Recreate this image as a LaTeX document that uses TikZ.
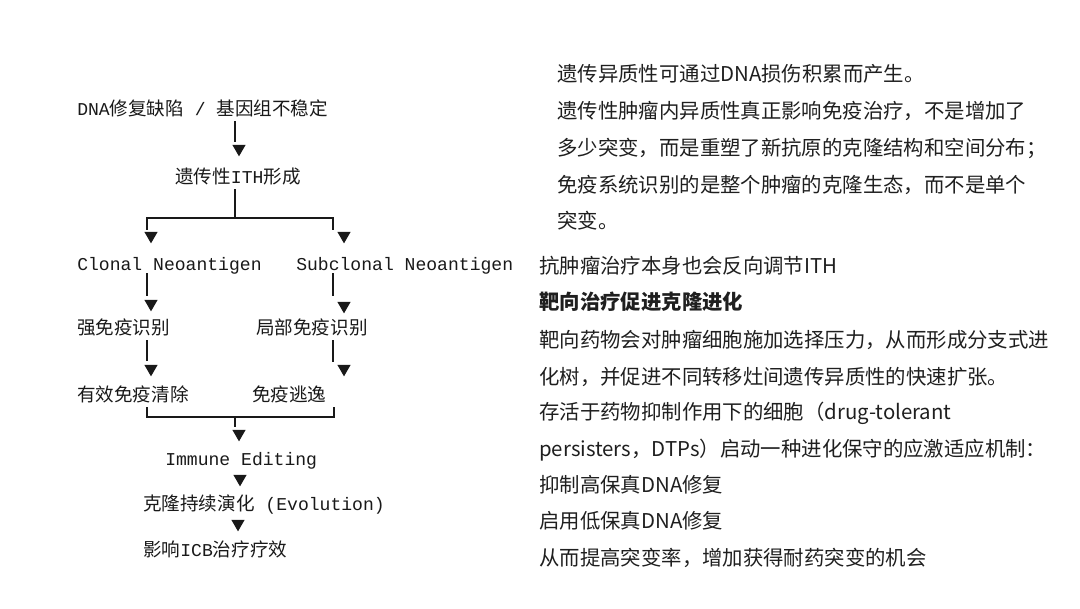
\documentclass[tikz,border=0pt]{standalone}
\usepackage{fontspec}
\setmonofont{Liberation Mono}
\newfontfamily\cjk{Noto Sans CJK SC}
\newcommand\zh[1]{{\cjk\fontsize{13.2}{16}\selectfont #1}}
\usetikzlibrary{calc}
\usetikzlibrary{positioning}
\usetikzlibrary{shapes.geometric}

\tikzset{
  flow/.style={font=\ttfamily\fontsize{12.85}{16}\selectfont, text=black!90, inner sep=0pt,
               text height=0.35cm, text depth=0.1cm, anchor=base west},
  note/.style={font=\cjk\fontsize{14.5}{18}\selectfont, text=black!88, inner sep=0pt, anchor=base west},
  tri/.style={regular polygon, regular polygon sides=3, shape border rotate=180,
              fill=black!90, inner sep=0pt, minimum size=0.38cm},
  link/.style={black!90, line width=1.3pt}
}

\begin{document}
\begin{tikzpicture}[x=0.025cm, y=-0.025cm]
  \useasboundingbox (0,0) rectangle (1080,608);

  % flow chart
  \path (77,115)  node[flow] (dna)       {DNA\zh{修复缺陷} / \zh{基因组不稳定}}
        (175,183) node[flow] (ith)       {\zh{遗传性}ITH\zh{形成}}
        (77,270)  node[flow] (clonal)    {Clonal Neoantigen}
        (296,270) node[flow] (subclonal) {Subclonal Neoantigen}
        (77,334)  node[flow] (strong)    {\zh{强免疫识别}}
        (256,334) node[flow] (partial)   {\zh{局部免疫识别}}
        (77,401)  node[flow] (clear)     {\zh{有效免疫清除}}
        (252,401) node[flow] (escape)    {\zh{免疫逃逸}}
        (165,465) node[flow] (editing)   {Immune Editing}
        (143,510) node[flow] (evol)      {\zh{克隆持续演化} (Evolution)}
        (143,556) node[flow] (icb)       {\zh{影响}ICB\zh{治疗疗效}};

  % arrow heads
  \path (239,148.75) node[tri] (t1) {}
        (151,235.75) node[tri] (t2) {}
        (344,235.75) node[tri] (t3) {}
        (151,303.75) node[tri] (t4) {}
        (344,305.75) node[tri] (t5) {}
        (151,368.75) node[tri] (t6) {}
        (344,368.75) node[tri] (t7) {}
        (239,433.75) node[tri] (t8) {}
        (240,478.75) node[tri] (t9) {}
        (238,523.75) node[tri] (t10) {};

  \coordinate (split) at (235,218);
  \coordinate (merge) at (235,417);

  \draw[link] ($(t1 |- dna.south)+(-4,2)$) -- ($(t1)+(-4,-7)$);
  \draw[link] ($(split |- ith.south)+(0,2)$) -- (split);
  \draw[link] ($(t2)+(-4,-6)$) |- (split) -| ($(t3)+(-11,-6)$);
  \draw[link] ($(t4 |- clonal.south)+(-4,-1)$) -- ($(t4)+(-4,-8)$);
  \draw[link] ($(t5 |- subclonal.south)+(-11,-1)$) -- ($(t5)+(-11,-10)$);
  \draw[link] ($(t6 |- strong.south)+(-4,2)$) -- ($(t6)+(-4,-8)$);
  \draw[link] ($(t7 |- partial.south)+(-11,2)$) -- ($(t7)+(-11,-7)$);
  \draw[link] ($(t6 |- clear.south)+(-4,2)$) |- (merge) -| ($(t7 |- escape.south)+(-10,2)$);
  \draw[link] (merge) -- ($(t8)+(-4,-7)$);

  % notes, right
  \path (557,81)  node[note] (n1) {遗传异质性可通过DNA损伤积累而产生。}
        (557,118) node[note] (n2) {遗传性肿瘤内异质性真正影响免疫治疗，不是增加了}
        (557,155) node[note] (n3) {多少突变，而是重塑了新抗原的克隆结构和空间分布；}
        (557,192) node[note] (n4) {免疫系统识别的是整个肿瘤的克隆生态，而不是单个}
        (557,228) node[note] (n5) {突变。}
        (539,273) node[note] (m1) {抗肿瘤治疗本身也会反向调节ITH}
        (539,309) node[note] (m2) {\bfseries 靶向治疗促进克隆进化}
        (539,347) node[note] (m3) {靶向药物会对肿瘤细胞施加选择压力，从而形成分支式进}
        (539,384) node[note] (m4) {化树，并促进不同转移灶间遗传异质性的快速扩张。}
        (539,419) node[note] (m5) {存活于药物抑制作用下的细胞（drug-tolerant}
        (539,456) node[note] (m6) {persisters，DTPs）启动一种进化保守的应激适应机制：}
        (539,492) node[note] (m7) {抑制高保真DNA修复}
        (539,528) node[note] (m8) {启用低保真DNA修复}
        (539,565) node[note] (m9) {从而提高突变率，增加获得耐药突变的机会};
\end{tikzpicture}
\end{document}
